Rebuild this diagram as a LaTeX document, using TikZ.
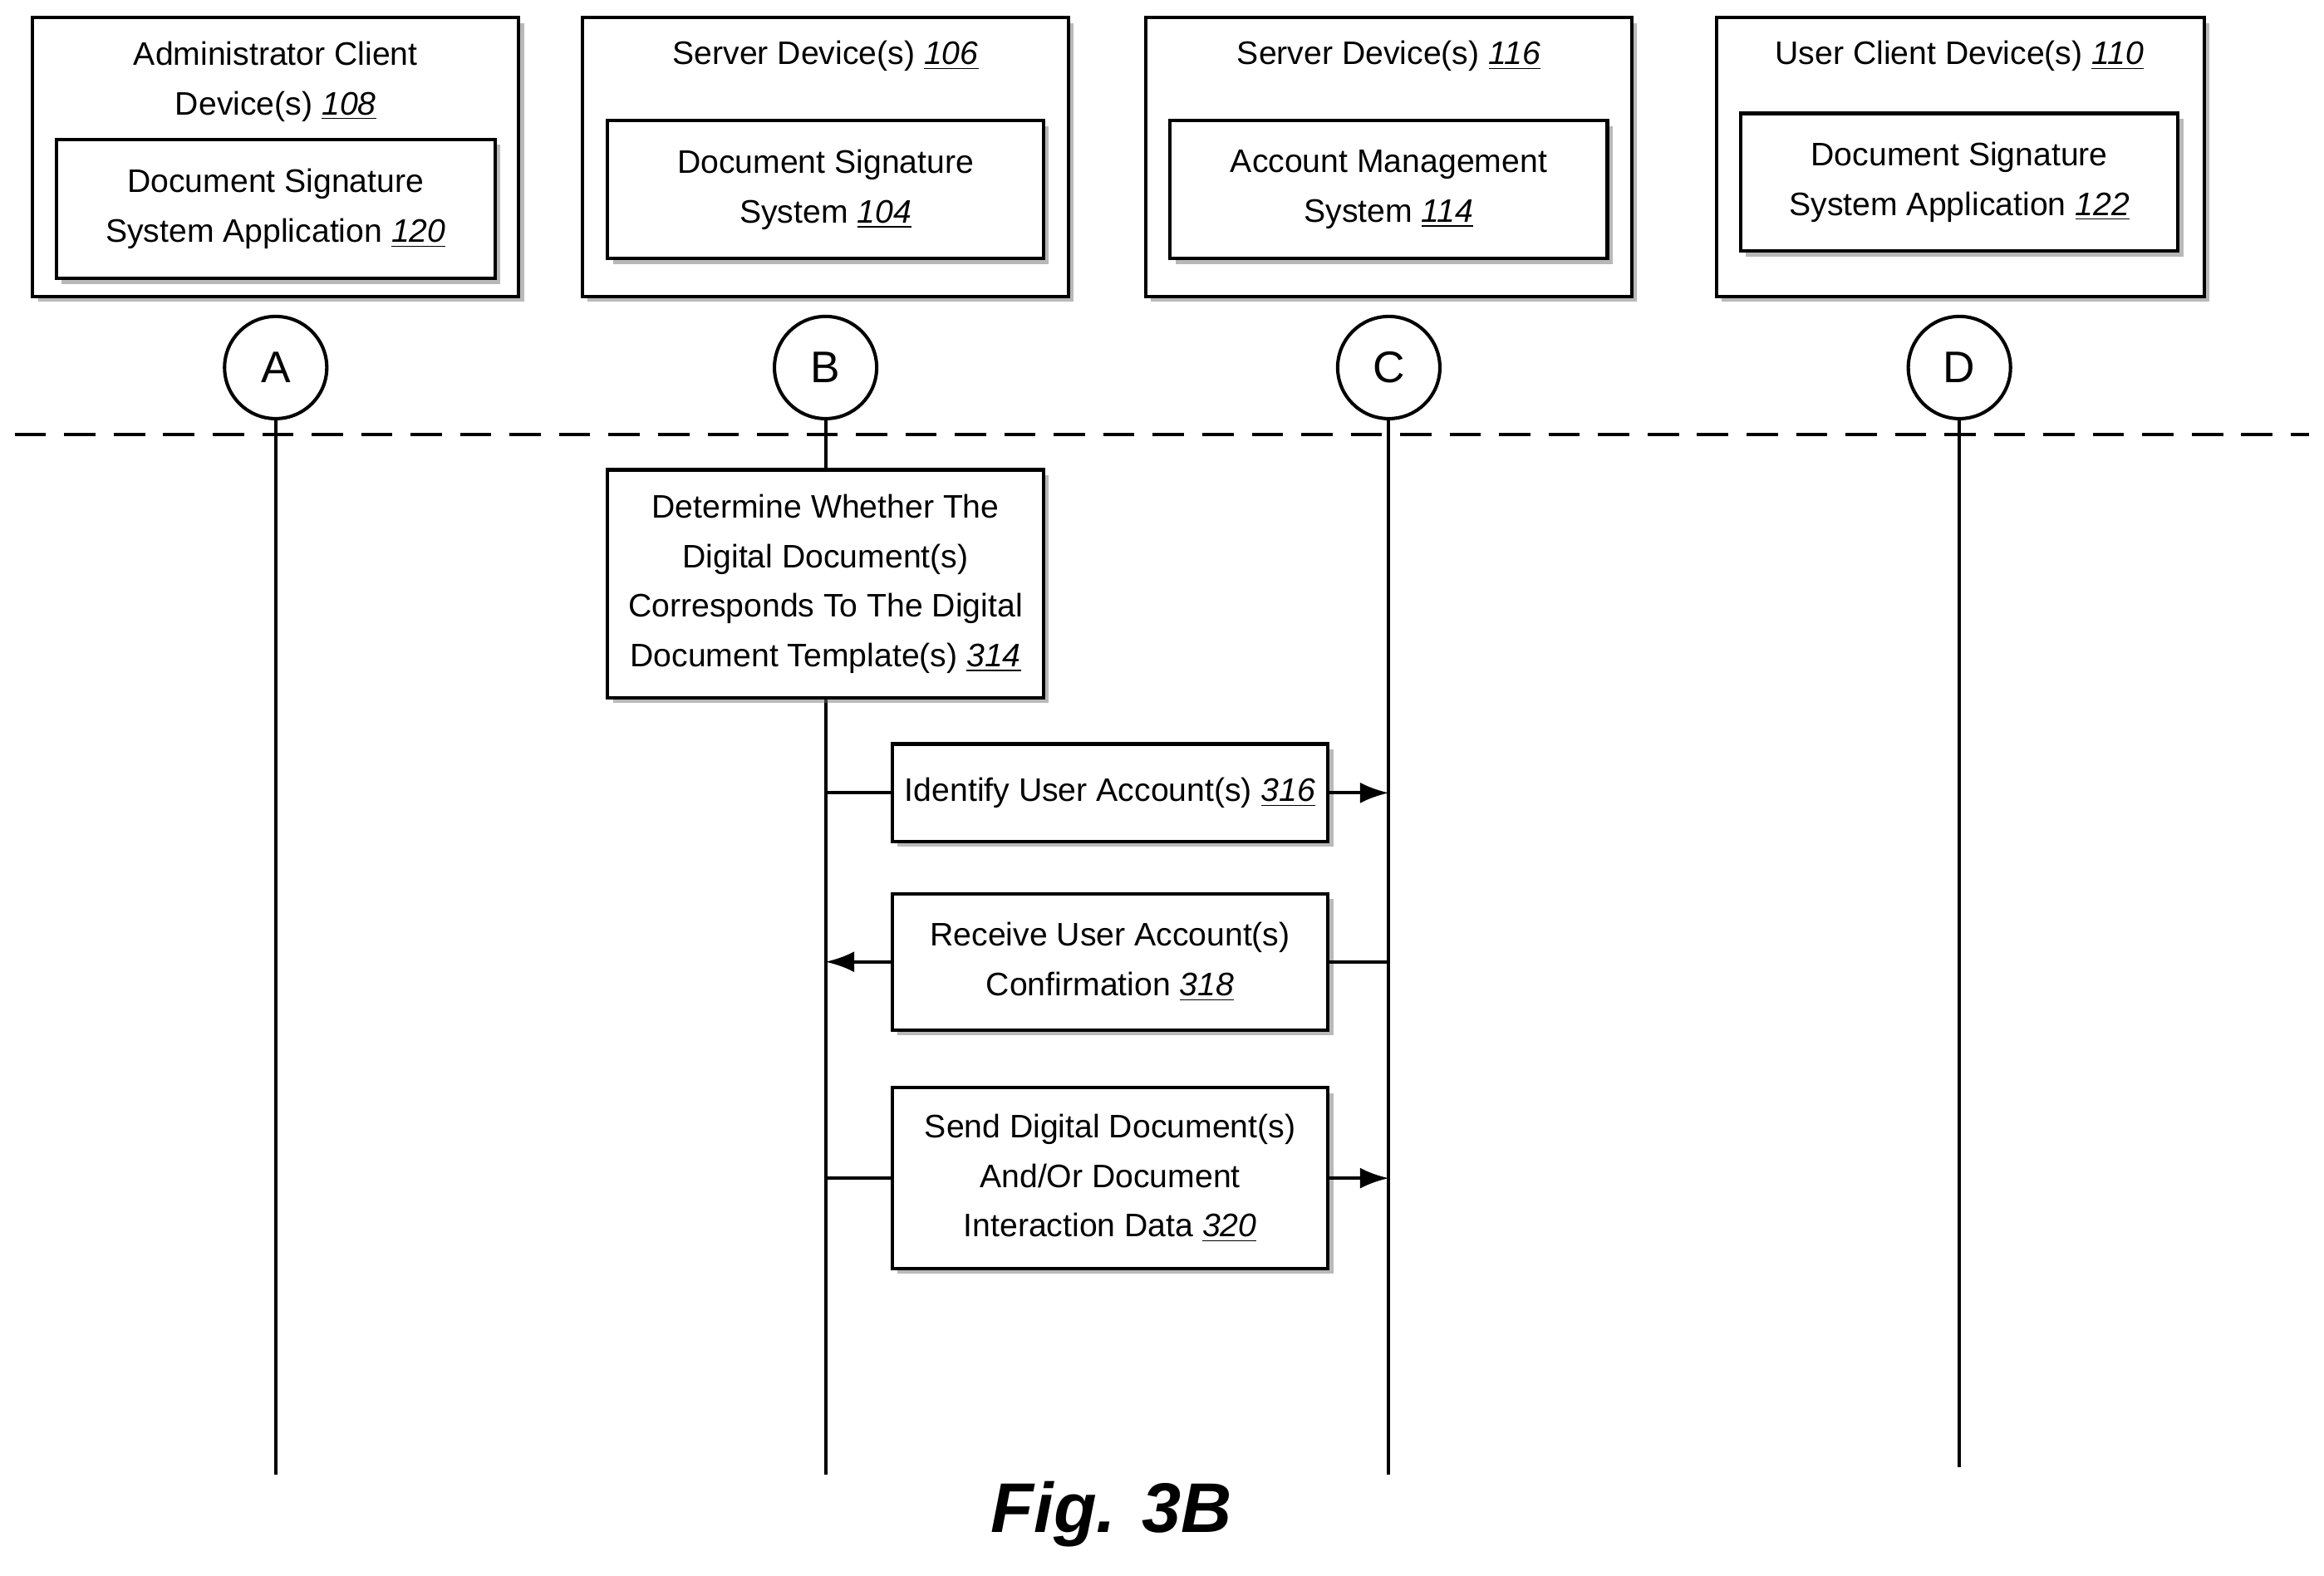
\documentclass[tikz,border=0pt]{standalone}
\usepackage{fontspec}
\setmainfont{Liberation Sans}
\usetikzlibrary{shadows,arrows.meta}
\newcommand{\num}[1]{\underline{\textit{#1}}}
\begin{document}
\begin{tikzpicture}[x=0.02cm,y=-0.02cm,line width=1.3pt,
    every node/.style={font=\fontsize{12.5}{19}\selectfont,align=center},
    box/.style={draw,fill=white,drop shadow={shadow xshift=2pt,shadow yshift=-2pt,fill=black!55}},
    life/.style={draw,circle,minimum size=1.38cm,font=\fontsize{17}{20}\selectfont},
    arr/.style={-{Latex[length=11pt,width=8pt]}}]
    \useasboundingbox (0,0) rectangle (1568,1063);

    % devices
    \draw[box] (22,12) rectangle (350,200);
    \draw[box] (393,12) rectangle (721,200);
    \draw[box] (773,12) rectangle (1101,200);
    \draw[box] (1158,12) rectangle (1487,200);
    \node (t108) at (186,55) {Administrator Client\\Device(s) \num{108}};
    \node (t106) at (557,38) {Server Device(s) \num{106}};
    \node (t116) at (937,38) {Server Device(s) \num{116}};
    \node (t110) at (1322,38) {User Client Device(s) \num{110}};
    \node[box,minimum width=5.92cm,minimum height=1.88cm] (s120) at (186,141) {Document Signature\\System Application \num{120}};
    \node[box,minimum width=5.88cm,minimum height=1.86cm] (s104) at (557,128) {Document Signature\\System \num{104}};
    \node[box,minimum width=5.9cm,minimum height=1.86cm] (s114) at (937,128) {Account Management\\System \num{114}};
    \node[box,minimum width=5.9cm,minimum height=1.86cm] (s122) at (1322,123) {Document Signature\\System Application \num{122}};

    % lifelines
    \node[life] (A) at (186,248) {A};
    \node[life] (B) at (557,248) {B};
    \node[life] (C) at (937,248) {C};
    \node[life] (D) at (1322,248) {D};
    \coordinate (Aend) at (186,995);
    \coordinate (Bend) at (557,995);
    \coordinate (Cend) at (937,995);
    \coordinate (Dend) at (1322,990);
    \draw (A) -- (Aend);
    \draw (B) -- (Bend);
    \draw (C) -- (Cend);
    \draw (D) -- (Dend);
    \coordinate (dl) at (10,293);
    \coordinate (dr) at (1558,293);
    \draw[dash pattern=on 12pt off 7pt] (dl) -- (dr);

    % steps
    \node[box,minimum width=5.88cm,minimum height=3.08cm] (s314) at (557,394) {Determine Whether The\\Digital Document(s)\\Corresponds To The Digital\\Document Template(s) \num{314}};
    \node[box,minimum width=5.88cm,minimum height=1.32cm] (s316) at (749,535) {Identify User Account(s) \num{316}};
    \node[box,minimum width=5.88cm,minimum height=1.84cm] (s318) at (749,649) {Receive User Account(s)\\Confirmation \num{318}};
    \node[box,minimum width=5.88cm,minimum height=2.44cm] (s320) at (749,795) {Send Digital Document(s)\\And/Or Document\\Interaction Data \num{320}};

    \draw (s316.west -| B) -- (s316.west);
    \draw[arr] (s316.east) -- (s316.east -| C);
    \draw (s318.east -| C) -- (s318.east);
    \draw[arr] (s318.west) -- (s318.west -| B);
    \draw (s320.west -| B) -- (s320.west);
    \draw[arr] (s320.east) -- (s320.east -| C);

    \node[font=\fontsize{27}{32}\selectfont\bfseries\itshape] (fig) at (750,1022) {Fig. 3B};
\end{tikzpicture}
\end{document}
